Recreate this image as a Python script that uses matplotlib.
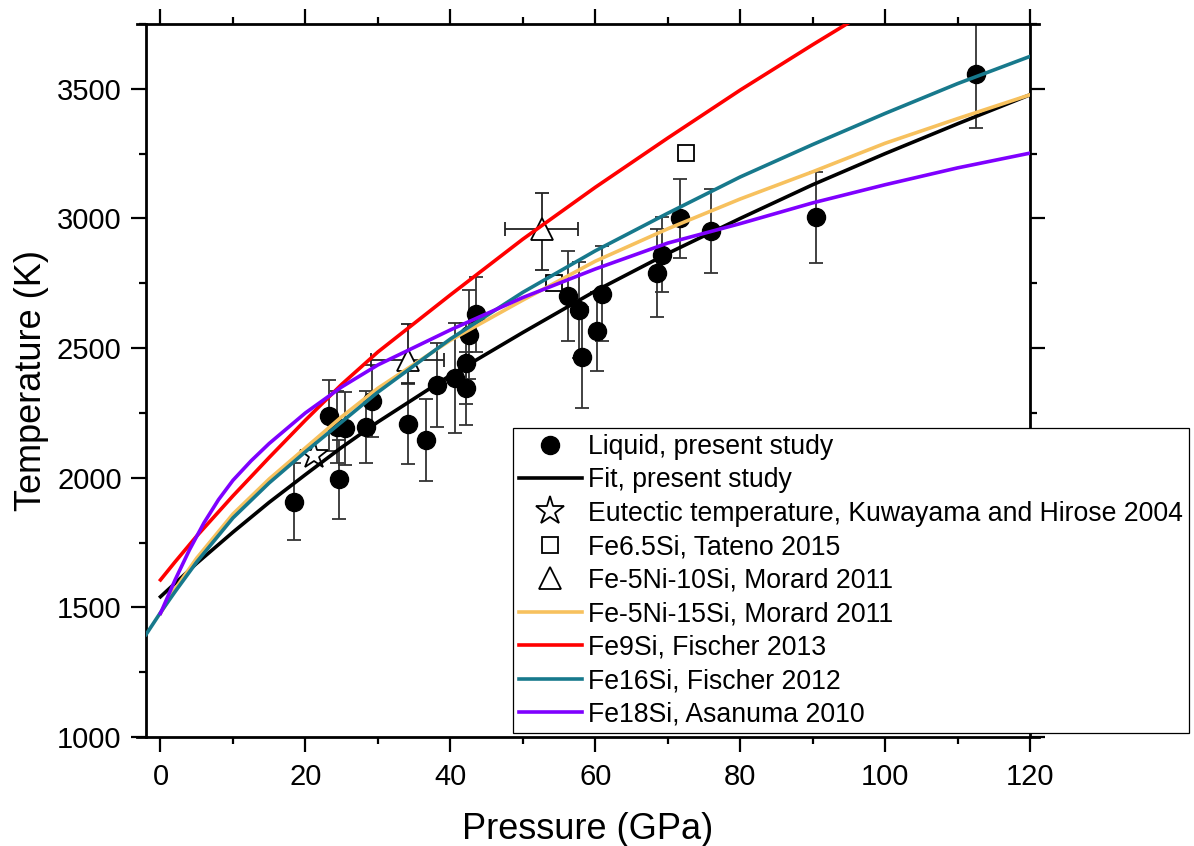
import matplotlib
matplotlib.use("Agg")
import matplotlib.pyplot as plt
from matplotlib.ticker import MultipleLocator

plt.rcParams['font.family'] = ['Liberation Sans', 'DejaVu Sans']

# liquid points, present study (GPa, K, 1 sigma)
liquid_p = [18.4, 23.2, 24.3, 24.6, 25.4, 28.3, 29.2, 34.2, 36.7, 38.1, 40.7, 42.1, 42.2,
            42.6, 43.6, 56.2, 57.8, 58.2, 60.3, 61.0, 68.5, 69.2, 71.7, 76.0, 90.5, 112.6]
liquid_t = [1908, 2240, 2195, 1994, 2190, 2195, 2296, 2208, 2146, 2358, 2384, 2345, 2441,
            2551, 2630, 2701, 2647, 2465, 2564, 2709, 2789, 2860, 3001, 2952, 3005, 3558]
liquid_err = [150, 135, 140, 152, 140, 138, 140, 155, 157, 163, 212, 140, 155,
              172, 145, 175, 186, 195, 154, 183, 170, 145, 152, 162, 175, 210]

# fit, present study
fit_p = [0, 5, 10, 15, 20, 25, 30, 40, 50, 60, 70, 80, 90, 100, 110, 120]
fit_t = [1541, 1670, 1790, 1905, 2012, 2117, 2215, 2395, 2560, 2720, 2865, 3000, 3130, 3250, 3365, 3477]

# Kuwayama and Hirose 2004
eutectic_p = [21.2]
eutectic_t = [2088]

# Tateno 2015
tateno_p = [54.3, 72.5]
tateno_t = [2750, 3252]

# Morard 2011, Fe-5Ni-10Si
morard10_p = [34.1, 52.6]
morard10_t = [2455, 2958]
morard10_perr = [5, 5]
morard10_terr_lo = [90, 156]
morard10_terr_hi = [137, 142]

# Morard 2011, Fe-5Ni-15Si
morard15_p = [0, 2, 5, 10, 15, 20, 25, 30, 40, 50, 60, 70, 80, 90, 100, 110, 120]
morard15_t = [1477, 1570, 1690, 1860, 1995, 2115, 2235, 2345, 2530, 2685, 2835, 2960, 3075, 3180,
              3290, 3385, 3477]

# Fischer 2013, Fe9Si
fischer13_p = [0, 2, 5, 10, 15, 20, 25, 30, 40, 50, 60, 70, 80, 90, 95]
fischer13_t = [1606, 1675, 1775, 1930, 2078, 2222, 2360, 2485, 2705, 2920, 3120, 3310, 3495, 3670, 3755]

# Fischer 2012, Fe16Si
fischer12_p = [-2, 0, 2, 5, 10, 15, 20, 25, 30, 40, 50, 60, 70, 80, 90, 100, 110, 120]
fischer12_t = [1395, 1480, 1560, 1675, 1845, 1980, 2100, 2215, 2330, 2535, 2715, 2875, 3020, 3160,
               3285, 3405, 3520, 3625]

# Asanuma 2010, Fe18Si
asanuma_p = [0, 2, 4, 6, 8, 10, 12.5, 15, 20, 25, 30, 40, 50, 60, 70, 80, 90, 100, 110, 120]
asanuma_t = [1477, 1605, 1722, 1826, 1915, 1990, 2065, 2132, 2250, 2350, 2435, 2570, 2695, 2805,
             2905, 2980, 3060, 3130, 3195, 3252]

fig = plt.figure(figsize=(11.94, 8.46), dpi=100)
ax = fig.add_axes([146 / 1194, 1 - 737 / 846, (1030 - 146) / 1194, (737 - 24) / 846])

ax.errorbar(liquid_p, liquid_t, yerr=liquid_err, fmt='none', ecolor='#333333',
            elinewidth=1.3, capsize=5, capthick=1.3, zorder=1)
ax.errorbar(morard10_p, morard10_t, xerr=morard10_perr,
            yerr=[morard10_terr_lo, morard10_terr_hi], fmt='none', ecolor='#222222',
            elinewidth=1.3, capsize=5, capthick=1.3, zorder=1)

ax.plot(liquid_p, liquid_t, 'o', color='black', ms=13, ls='none', zorder=2,
        label='Liquid, present study')
ax.plot(fit_p, fit_t, color='black', lw=2.6, zorder=3, label='Fit, present study')
ax.plot(eutectic_p, eutectic_t, '*', ms=21, mfc='white', mec='black', mew=1.3, ls='none',
        zorder=2, label='Eutectic temperature, Kuwayama and Hirose 2004')
ax.plot(tateno_p, tateno_t, 's', ms=12, mfc='white', mec='black', mew=1.3, ls='none',
        zorder=2, label='Fe6.5Si, Tateno 2015')
ax.plot(morard10_p, morard10_t, '^', ms=16, mfc='white', mec='black', mew=1.3, ls='none',
        zorder=2, label='Fe-5Ni-10Si, Morard 2011')
ax.plot(morard15_p, morard15_t, color='#F7C15E', lw=2.6, zorder=3, label='Fe-5Ni-15Si, Morard 2011')
ax.plot(fischer13_p, fischer13_t, color='#FF0000', lw=2.6, zorder=3, label='Fe9Si, Fischer 2013')
ax.plot(fischer12_p, fischer12_t, color='#17798C', lw=2.6, zorder=3, label='Fe16Si, Fischer 2012')
ax.plot(asanuma_p, asanuma_t, color='#7F00FF', lw=2.6, zorder=3, label='Fe18Si, Asanuma 2010')

ax.set_xlim(-2, 120)
ax.set_ylim(1000, 3750)
ax.xaxis.set_major_locator(MultipleLocator(20))
ax.xaxis.set_minor_locator(MultipleLocator(10))
ax.yaxis.set_major_locator(MultipleLocator(500))
ax.yaxis.set_minor_locator(MultipleLocator(250))
ax.tick_params(which='both', direction='out', top=True, right=True, width=1.6,
               labelsize=21)
ax.tick_params(axis='x', pad=8)
ax.tick_params(axis='y', pad=7)
ax.tick_params(which='major', length=10.5)
ax.tick_params(which='minor', length=5)
for s in ax.spines.values():
    s.set_linewidth(2)
ax.spines['bottom'].set_bounds(-3.2, 121.2)
ax.spines['top'].set_bounds(-3.2, 121.2)

ax.set_xlabel('Pressure (GPa)', fontsize=26, labelpad=15)
ax.set_ylabel('Temperature (K)', fontsize=26, labelpad=6)

leg = ax.legend(loc='upper left', bbox_to_anchor=(513 / 1194, 1 - 428 / 846),
                bbox_transform=fig.transFigure, borderaxespad=0, fontsize=19.2,
                handlelength=2.35, handletextpad=0.25, labelspacing=0.28, borderpad=0.22,
                fancybox=False, framealpha=1, edgecolor='black')
leg.get_frame().set_linewidth(0.9)
leg.set_zorder(10)

fig.savefig('out.png', dpi=100)
